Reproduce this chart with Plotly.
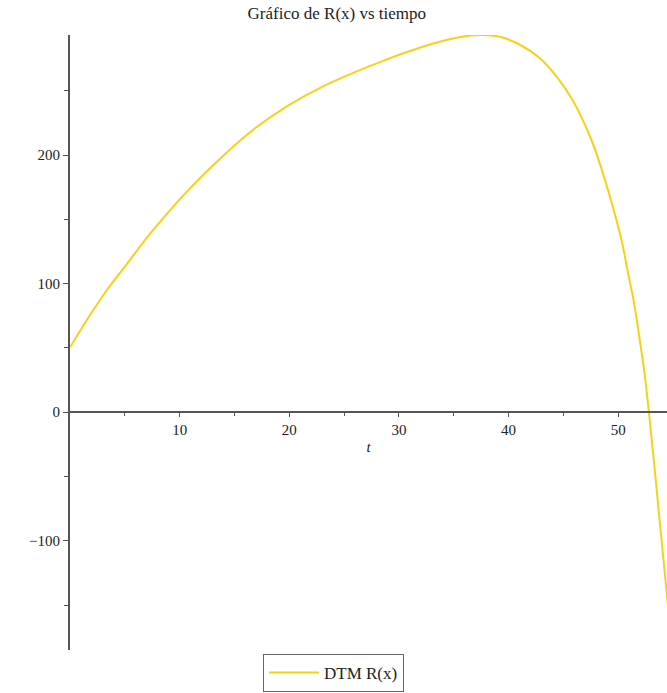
import plotly.graph_objects as go

t_vals = [0, 1.55, 3.38, 5.2, 7.03, 8.86, 10.7, 13.9, 16.96, 20, 23.04, 26.1, 28.5, 31, 33.7, 35.5,
          37.4, 39.2, 41, 42.8, 44.35, 45.9, 47.55, 48.6, 49.5, 50.3, 50.9, 51.5, 51.96, 52.4, 52.8,
          53.3, 53.8, 54.43, 54.8]
r_vals = [50.5, 72, 95.3, 115.5, 136, 154.5, 172, 199, 221.5, 239.2, 253.4, 265, 273.2, 281, 288.2, 291.8,
          293.5, 292.1, 286.1, 275.8, 261.5, 242, 212, 186, 160, 134, 108.3, 82.4, 56.5, 30.6, 0,
          -42, -86, -141, -175]

x_range = [0, 54.45]
y_range = [-185, 293.5]
y_ticks = [-100, 0, 100, 200]
x_ticks = [10, 20, 30, 40, 50]

FONT = "Liberation Serif"

fig = go.Figure()
fig.add_trace(go.Scatter(
    x=t_vals, y=r_vals, mode="lines", name="DTM R(x)",
    line=dict(color="#F5D21A", width=2, shape="spline", smoothing=1.0),
))

zero_pos = (0 - y_range[0]) / (y_range[1] - y_range[0])

fig.update_layout(
    width=667, height=693,
    margin=dict(l=70, r=0, t=35, b=43, autoexpand=False),
    paper_bgcolor="white", plot_bgcolor="white",
    title=dict(text="Gráfico de R(x) vs tiempo", xref="container", x=0.505, xanchor="center",
               y=1 - 13 / 693, yanchor="middle",
               font=dict(family=FONT, size=17, color="#222")),
    showlegend=True,
    legend=dict(orientation="h", xref="container", x=0.5, xanchor="center",
                yref="container", y=1 / 693, yanchor="bottom",
                itemwidth=50,
                bordercolor="#666", borderwidth=1, bgcolor="white",
                font=dict(family=FONT, size=17, color="#222")),
    xaxis=dict(range=x_range, anchor="free", position=zero_pos,
               showline=True, linecolor="#555", linewidth=1.5,
               showgrid=False, zeroline=False,
               tickvals=x_ticks, ticks="outside", ticklen=4, tickcolor="#555",
               minor=dict(tickvals=[5, 15, 25, 35, 45], ticks="outside", ticklen=3, tickcolor="#555"),
               tickfont=dict(family=FONT, size=15, color="#222"),
               title=dict(text="<i>t</i>", standoff=4,
                          font=dict(family=FONT, size=15, color="#222"))),
    yaxis=dict(range=y_range, showline=True, linecolor="#555", linewidth=2,
               showgrid=False, zeroline=False,
               tickvals=y_ticks, ticks="outside", ticklen=5, tickcolor="#555",
               minor=dict(tickvals=[-150, -50, 50, 150, 250], ticks="outside", ticklen=4, tickcolor="#555"),
               tickfont=dict(family=FONT, size=15, color="#222")),
)

fig.write_html("out.html")
